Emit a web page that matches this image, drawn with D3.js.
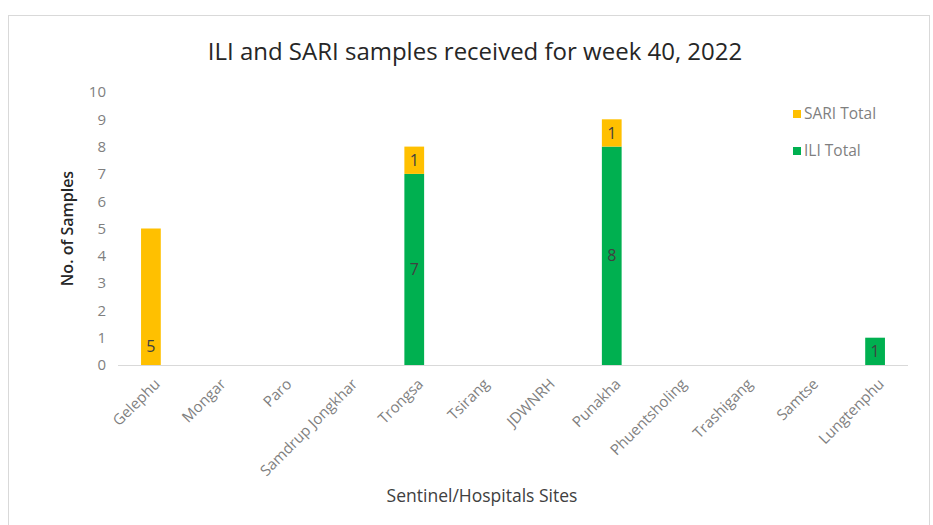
<!DOCTYPE html>
<html>
<head>
<meta charset="utf-8">
<script src="https://cdn.jsdelivr.net/npm/d3@7"></script>
<style>
  html, body { margin: 0; padding: 0; background: #fff; }
  svg { display: block; font-family: "Open Sans", "Noto Sans", sans-serif; }
</style>
</head>
<body>
<div id="chart"></div>
<script>
const sites = ["Gelephu", "Mongar", "Paro", "Samdrup Jongkhar", "Trongsa", "Tsirang",
  "JDWNRH", "Punakha", "Phuentsholing", "Trashigang", "Samtse", "Lungtenphu"];
const iliTotal = [0, 0, 0, 0, 7, 0, 0, 8, 0, 0, 0, 1];
const sariTotal = [5, 0, 0, 0, 1, 0, 0, 1, 0, 0, 0, 0];
const yTicks = [0, 1, 2, 3, 4, 5, 6, 7, 8, 9, 10];
// Gelephu's label sits at the base of the bar in the original
const sariLabelPos = ["base", "center", "center", "center", "center", "center",
  "center", "center", "center", "center", "center", "center"];

const width = 933;
const height = 525;
const margin = { top: 92, right: 23, bottom: 160, left: 118 };

const svg = d3.select("#chart").append("svg")
  .attr("width", width)
  .attr("height", height);

// outer frame
svg.append("rect")
  .attr("x", 8.5).attr("y", 15.5)
  .attr("width", 921).attr("height", 520)
  .attr("fill", "#fff")
  .attr("stroke", "#d9d9d9");

const x = d3.scaleBand()
  .domain(sites)
  .range([margin.left, width - margin.right - 2])
  .paddingInner(0.7)
  .paddingOuter(0.35);

const y = d3.scaleLinear()
  .domain([0, 10])
  .range([365, margin.top]);

// title
svg.append("text")
  .attr("x", 475).attr("y", 60)
  .attr("text-anchor", "middle")
  .attr("font-size", 24)
  .attr("fill", "#262626")
  .text("ILI and SARI samples received for week 40, 2022");

// y axis
const yAxis = svg.append("g")
  .attr("transform", `translate(${margin.left - 12},0)`)
  .call(d3.axisLeft(y).tickValues(yTicks).tickSize(0).tickPadding(0));
yAxis.select(".domain").remove();
yAxis.selectAll("text")
  .attr("font-size", 15)
  .attr("fill", "#7f7f7f")
  .attr("font-family", "Open Sans, sans-serif");

// baseline
svg.append("line")
  .attr("x1", margin.left).attr("x2", width - margin.right - 2)
  .attr("y1", y(0) + 0.5).attr("y2", y(0) + 0.5)
  .attr("stroke", "#d9d9d9");

// stacked bars
const rows = sites.map((s, i) => ({ site: s, ili: iliTotal[i], sari: sariTotal[i], pos: sariLabelPos[i] }));

svg.append("g").selectAll("rect")
  .data(rows.filter(d => d.ili > 0))
  .join("rect")
  .attr("x", d => x(d.site))
  .attr("width", x.bandwidth())
  .attr("y", d => y(d.ili))
  .attr("height", d => y(0) - y(d.ili))
  .attr("fill", "#00b050");

svg.append("g").selectAll("rect")
  .data(rows.filter(d => d.sari > 0))
  .join("rect")
  .attr("x", d => x(d.site))
  .attr("width", x.bandwidth())
  .attr("y", d => y(d.ili + d.sari))
  .attr("height", d => y(d.ili) - y(d.ili + d.sari))
  .attr("fill", "#ffc000");

// data labels
const labels = svg.append("g")
  .attr("font-size", 16)
  .attr("fill", "#404040")
  .attr("text-anchor", "middle");

labels.selectAll(".ili-label")
  .data(rows.filter(d => d.ili > 0))
  .join("text")
  .attr("class", "ili-label")
  .attr("x", d => x(d.site) + x.bandwidth() / 2)
  .attr("y", d => y(d.ili / 2))
  .attr("dy", "0.35em")
  .text(d => d.ili);

labels.selectAll(".sari-label")
  .data(rows.filter(d => d.sari > 0))
  .join("text")
  .attr("class", "sari-label")
  .attr("x", d => x(d.site) + x.bandwidth() / 2)
  .attr("y", d => d.pos === "base" ? y(d.ili) - 19 : y(d.ili + d.sari / 2))
  .attr("dy", "0.35em")
  .text(d => d.sari);

// x axis labels
const xAxis = svg.append("g")
  .attr("transform", `translate(0,${y(0)})`)
  .call(d3.axisBottom(x).tickSize(0).tickPadding(0));
xAxis.select(".domain").remove();
xAxis.selectAll("text")
  .attr("font-size", 15)
  .attr("fill", "#7f7f7f")
  .attr("font-family", "Open Sans, sans-serif")
  .attr("text-anchor", "end")
  .attr("dy", 0)
  .attr("transform", "translate(10,20) rotate(-45)");

// axis titles
svg.append("text")
  .attr("transform", `translate(73,${(y(0) + y(10)) / 2}) rotate(-90)`)
  .attr("text-anchor", "middle")
  .attr("font-size", 16)
  .attr("font-weight", 600)
  .attr("fill", "#262626")
  .text("No. of Samples");

svg.append("text")
  .attr("x", 482).attr("y", 502)
  .attr("text-anchor", "middle")
  .attr("font-size", 17.5)
  .attr("fill", "#404040")
  .text("Sentinel/Hospitals Sites");

// legend
const legendItems = [
  { name: "SARI Total", color: "#ffc000", y: 114 },
  { name: "ILI Total", color: "#00b050", y: 151 }
];
const legend = svg.append("g").selectAll("g")
  .data(legendItems)
  .join("g")
  .attr("transform", d => `translate(793,${d.y})`);
legend.append("rect")
  .attr("x", 0).attr("y", -4)
  .attr("width", 8).attr("height", 8)
  .attr("fill", d => d.color);
legend.append("text")
  .attr("x", 11).attr("dy", "0.35em")
  .attr("font-size", 15.5)
  .attr("fill", "#7f7f7f")
  .text(d => d.name);
</script>
</body>
</html>
